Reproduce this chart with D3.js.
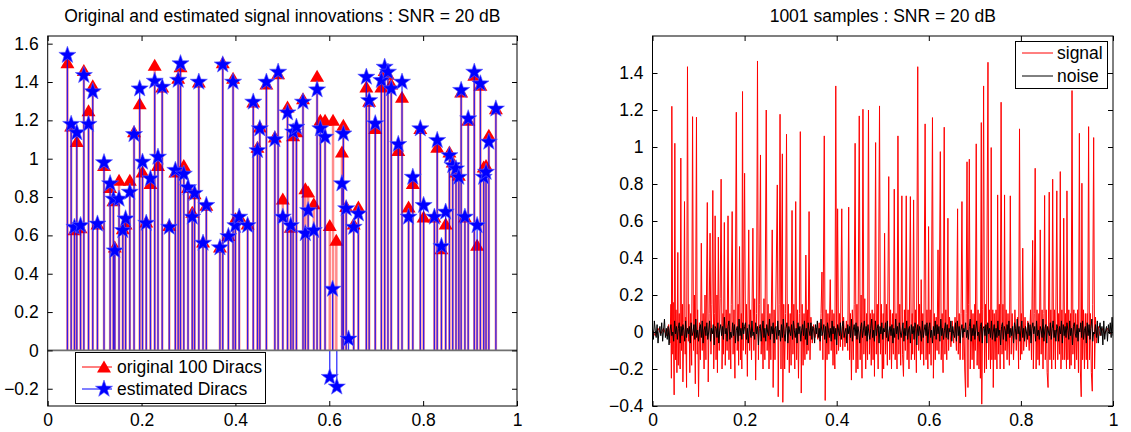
<!DOCTYPE html>
<html>
<head>
<meta charset="utf-8">
<script src="https://cdn.jsdelivr.net/npm/d3@7"></script>
<style>
  body { margin: 0; background: #fff; }
  text { font-family: "Liberation Sans", Arial, sans-serif; }
</style>
</head>
<body>
<div id="chart"></div>
<script>
// Data
// ================================
// original Diracs (positions, amplitudes)
var origT = [0.042,0.050,0.057,0.062,0.070,0.077,0.087,0.096,0.106,0.120,0.133,0.140,0.143,0.152,0.160,0.166,0.175,0.184,0.196,0.202,
  0.210,0.219,0.228,0.235,0.244,0.259,0.272,0.278,0.283,0.290,0.299,0.308,0.313,0.322,0.331,0.338,0.367,0.373,0.385,0.395,
  0.400,0.408,0.426,0.438,0.447,0.452,0.466,0.484,0.491,0.501,0.511,0.518,0.523,0.530,0.544,0.549,0.555,0.567,0.574,0.581,
  0.591,0.601,0.608,0.615,0.627,0.630,0.636,0.652,0.662,0.679,0.685,0.698,0.711,0.718,0.725,0.732,0.747,0.755,0.769,0.778,
  0.794,0.801,0.824,0.830,0.839,0.848,0.856,0.863,0.870,0.876,0.881,0.889,0.896,0.909,0.915,0.922,0.929,0.934,0.940,0.955];
var origA = [1.50,1.17,0.63,1.09,0.64,1.46,1.25,1.38,0.66,0.965,0.85,0.78,0.54,0.887,0.635,0.66,0.887,1.14,1.287,0.93,
  0.67,0.87,1.487,0.965,1.374,0.652,0.93,1.42,1.48,0.965,0.85,0.72,0.817,1.40,0.565,0.757,0.54,1.50,0.60,1.42,
  0.687,0.70,0.66,1.296,1.06,1.165,1.39,1.113,1.443,0.79,1.27,0.643,1.12,1.14,1.313,0.843,0.826,0.765,1.43,1.20,
  1.20,0.652,1.20,0.574,1.035,1.174,0.75,0.66,0.748,1.374,1.30,1.157,1.374,1.46,1.44,1.39,1.043,1.32,0.748,0.87,
  1.157,0.696,0.696,1.06,0.53,0.66,1.035,0.983,0.93,0.913,1.348,0.696,1.20,1.435,0.548,1.383,0.957,0.965,1.122,1.26];

// estimated Diracs
var estT = [0.042,0.050,0.057,0.062,0.070,0.077,0.087,0.096,0.106,0.120,0.133,0.140,0.143,0.152,0.160,0.166,0.175,0.184,0.196,0.202,
  0.210,0.219,0.228,0.235,0.244,0.259,0.272,0.278,0.283,0.290,0.299,0.308,0.313,0.322,0.331,0.338,0.367,0.373,0.385,0.395,
  0.400,0.408,0.426,0.438,0.447,0.452,0.466,0.484,0.491,0.501,0.511,0.518,0.523,0.530,0.544,0.549,0.555,0.567,0.574,0.581,
  0.591,0.601,0.607,0.616,0.641,0.627,0.630,0.636,0.652,0.662,0.679,0.685,0.698,0.711,0.718,0.725,0.732,0.747,0.755,0.769,0.778,
  0.794,0.801,0.824,0.830,0.839,0.848,0.856,0.863,0.870,0.876,0.881,0.889,0.896,0.909,0.915,0.922,0.929,0.934,0.940,0.955];
var estA = [1.54,1.18,0.643,1.136,0.652,1.435,1.18,1.35,0.66,0.98,0.87,0.79,0.52,0.79,0.626,0.687,0.826,1.127,1.365,0.983,
  0.664,0.896,1.405,1.009,1.374,0.643,0.94,1.41,1.496,0.92,0.85,0.696,0.82,1.40,0.56,0.757,0.536,1.49,0.595,1.40,
  0.652,0.696,0.652,1.296,1.043,1.157,1.40,1.10,1.452,0.696,1.24,0.652,1.14,1.165,1.296,0.61,0.73,0.626,1.36,1.157,
  1.113,-0.14,0.32,-0.19,0.06,0.87,1.13,0.74,0.643,0.713,1.426,1.304,1.183,1.409,1.478,1.452,1.365,1.075,1.40,0.696,0.904,
  1.157,0.757,0.696,1.096,0.543,0.722,1.017,0.965,0.948,0.904,1.357,0.696,1.209,1.452,0.652,1.391,0.904,0.93,1.087,1.26];

// noiseless samples (polyline vertices: position, value)
var signalPts = [
[0,0.01],[0.006,-0.02],[0.012,0.02],[0.018,-0.01],[0.024,0.02],[0.03,-0.02],[0.035,0.04],[0.038,-0.06],[0.040,0.15],[0.041,-0.25],
[0.042,1.22],[0.044,-0.12],[0.045,0.16],[0.047,-0.34],[0.0485,1.02],[0.050,-0.15],[0.051,0.12],[0.053,-0.22],[0.055,0.43],[0.056,-0.18],
[0.058,0.1],[0.060,-0.2],[0.0615,0.94],[0.063,-0.1],[0.065,0.15],[0.066,-0.27],[0.068,0.05],[0.0695,0.705],[0.071,-0.12],[0.072,0.08],
[0.074,-0.3],[0.076,1.434],[0.078,-0.05],[0.079,0.15],[0.081,-0.22],[0.083,0.1],[0.085,-0.18],[0.087,1.164],[0.089,-0.1],[0.091,0.2],
[0.093,-0.28],[0.0955,1.161],[0.097,-0.12],[0.098,0.12],[0.100,-0.35],[0.102,0.05],[0.104,-0.15],[0.106,0.48],[0.108,-0.1],[0.110,0.1],
[0.112,-0.2],[0.114,0.2],[0.116,-0.15],[0.119,0.70],[0.121,-0.27],[0.123,0.1],[0.125,0.534],[0.127,-0.12],[0.129,0.15],[0.131,0.765],
[0.133,-0.2],[0.135,0.1],[0.136,0.628],[0.138,-0.15],[0.140,0.2],[0.141,-0.22],[0.143,0.513],[0.145,-0.1],[0.147,0.18],[0.149,0.826],
[0.151,-0.2],[0.153,0.1],[0.154,-0.12],[0.156,0.592],[0.158,-0.18],[0.160,0.12],[0.162,-0.1],[0.164,0.628],[0.166,-0.15],[0.168,0.1],
[0.170,-0.2],[0.171,0.15],[0.173,0.651],[0.175,-0.12],[0.177,0.12],[0.179,-0.25],[0.182,1.188],[0.184,-0.1],[0.186,0.15],[0.187,-0.18],
[0.189,0.462],[0.191,-0.15],[0.193,0.1],[0.194,-0.2],[0.1955,1.30],[0.197,-0.1],[0.200,0.858],[0.202,-0.12],[0.204,0.15],[0.206,-0.24],
[0.209,0.552],[0.211,-0.1],[0.213,0.12],[0.215,-0.15],[0.218,0.561],[0.220,-0.1],[0.222,0.18],[0.224,-0.26],[0.226,0.1],[0.228,1.465],
[0.230,-0.15],[0.232,0.15],[0.2345,0.957],[0.236,-0.12],[0.238,0.1],[0.240,-0.2],[0.242,0.18],[0.244,-0.15],[0.247,1.20],[0.249,-0.1],
[0.251,0.15],[0.253,-0.2],[0.255,0.1],[0.257,-0.15],[0.260,0.552],[0.262,-0.3],[0.264,0.12],[0.266,-0.15],[0.268,0.2],[0.271,0.795],
[0.273,-0.35],[0.275,0.15],[0.277,1.177],[0.279,-0.2],[0.282,0.963],[0.283,-0.38],[0.285,0.15],[0.287,-0.2],[0.289,0.1],[0.291,1.069],
[0.293,-0.15],[0.295,0.15],[0.297,-0.22],[0.299,0.1],[0.301,-0.18],[0.303,0.657],[0.305,-0.12],[0.307,0.15],[0.309,-0.2],[0.311,0.705],
[0.313,-0.15],[0.315,0.12],[0.317,-0.25],[0.319,0.1],[0.321,1.083],[0.323,-0.33],[0.325,0.15],[0.327,-0.18],[0.329,0.1],[0.331,-0.15],
[0.333,0.416],[0.335,-0.12],[0.337,0.12],[0.338,-0.1],[0.340,0.651],[0.342,-0.15],[0.344,0.08],[0.347,-0.06],[0.350,0.04],[0.353,-0.03],
[0.356,0.02],[0.359,-0.04],[0.362,0.05],[0.364,-0.1],[0.366,0.1],[0.368,0.324],[0.370,-0.15],[0.373,1.06],[0.375,-0.37],[0.377,0.12],
[0.379,-0.15],[0.381,0.1],[0.383,-0.12],[0.386,0.283],[0.388,-0.1],[0.390,0.12],[0.392,-0.18],[0.394,0.1],[0.396,-0.2],[0.398,1.33],
[0.400,-0.12],[0.402,0.666],[0.404,-0.1],[0.406,0.1],[0.408,-0.08],[0.411,0.666],[0.413,-0.1],[0.415,0.08],[0.418,-0.08],[0.421,0.06],
[0.424,-0.1],[0.426,0.675],[0.428,-0.15],[0.430,0.1],[0.432,-0.26],[0.434,0.12],[0.436,-0.15],[0.438,0.15],[0.440,1.02],[0.442,-0.22],
[0.444,0.15],[0.446,-0.2],[0.449,1.168],[0.451,-0.15],[0.453,0.2],[0.455,-0.25],[0.457,1.204],[0.459,-0.12],[0.461,0.18],[0.463,-0.2],
[0.465,0.1],[0.467,-0.15],[0.469,1.20],[0.471,-0.12],[0.473,0.1],[0.475,-0.18],[0.477,0.12],[0.479,-0.15],[0.481,0.1],[0.482,-0.24],
[0.4845,1.024],[0.486,-0.12],[0.488,0.15],[0.490,-0.2],[0.493,1.222],[0.495,-0.12],[0.497,0.15],[0.499,-0.25],[0.501,0.1],[0.502,-0.2],
[0.504,0.534],[0.506,-0.12],[0.508,0.15],[0.510,-0.18],[0.513,0.84],[0.515,-0.15],[0.517,0.12],[0.519,-0.2],[0.521,0.1],[0.523,-0.12],
[0.525,0.772],[0.527,-0.15],[0.529,0.1],[0.531,-0.2],[0.533,1.06],[0.535,-0.12],[0.537,0.15],[0.539,-0.18],[0.5415,0.736],[0.543,-0.12],
[0.545,-0.24],[0.547,0.12],[0.549,-0.1],[0.551,0.736],[0.553,-0.15],[0.555,0.12],[0.557,-0.2],[0.560,0.732],[0.562,-0.15],[0.564,0.1],
[0.565,-0.12],[0.567,0.714],[0.569,-0.15],[0.571,0.12],[0.573,-0.22],[0.576,1.434],[0.578,-0.1],[0.580,0.15],[0.582,-0.15],[0.5835,0.283],
[0.585,-0.12],[0.587,0.1],[0.589,-0.18],[0.592,1.125],[0.594,-0.15],[0.596,0.12],[0.598,-0.2],[0.5995,0.57],[0.601,-0.12],[0.603,0.12],
[0.605,-0.18],[0.608,1.159],[0.610,-0.25],[0.612,0.1],[0.614,-0.15],[0.616,0.08],[0.618,-0.1],[0.620,0.444],[0.622,-0.12],[0.625,0.975],
[0.627,-0.15],[0.629,0.1],[0.631,-0.22],[0.6335,1.107],[0.635,-0.12],[0.637,0.12],[0.639,-0.15],[0.6415,0.615],[0.643,-0.1],[0.645,0.08],
[0.648,-0.08],[0.651,0.06],[0.654,-0.06],[0.657,0.08],[0.660,-0.1],[0.6625,0.666],[0.664,-0.12],[0.666,0.1],[0.668,-0.15],[0.670,0.1],
[0.672,0.705],[0.674,-0.15],[0.676,0.12],[0.678,-0.2],[0.680,-0.35],[0.681,0.1],[0.683,0.92],[0.685,-0.3],[0.686,0.15],[0.688,0.934],
[0.690,-0.2],[0.692,0.12],[0.694,-0.15],[0.696,0.1],[0.698,-0.2],[0.700,0.15],[0.701,-0.1],[0.703,1.017],[0.705,-0.18],[0.707,0.12],
[0.709,-0.2],[0.711,0.1],[0.712,-0.25],[0.714,1.132],[0.715,-0.39],[0.717,0.12],[0.719,1.33],[0.721,-0.22],[0.723,0.15],[0.725,-0.2],
[0.7285,1.458],[0.730,-0.15],[0.732,0.12],[0.734,-0.2],[0.7355,0.997],[0.737,-0.15],[0.739,0.12],[0.740,-0.3],[0.742,0.1],[0.744,-0.15],
[0.746,0.12],[0.748,-0.2],[0.7495,0.741],[0.751,-0.12],[0.753,0.15],[0.755,-0.2],[0.757,1.242],[0.759,-0.12],[0.761,0.15],[0.763,-0.2],
[0.7645,0.741],[0.766,-0.1],[0.768,0.12],[0.770,-0.15],[0.772,0.1],[0.775,-0.18],[0.777,0.736],[0.779,-0.12],[0.781,0.1],[0.784,-0.15],
[0.787,0.12],[0.790,-0.1],[0.793,0.08],[0.795,-0.2],[0.797,1.098],[0.799,-0.15],[0.801,0.1],[0.802,-0.12],[0.804,0.453],[0.806,-0.1],
[0.809,0.08],[0.812,-0.08],[0.815,0.06],[0.818,-0.1],[0.821,0.12],[0.823,-0.15],[0.8255,0.495],[0.827,-0.2],[0.829,0.1],[0.831,0.885],
[0.833,-0.2],[0.835,0.12],[0.837,-0.15],[0.839,0.1],[0.840,-0.18],[0.842,0.552],[0.844,-0.12],[0.846,0.12],[0.848,-0.2],[0.850,0.1],
[0.8515,0.738],[0.853,-0.15],[0.855,0.12],[0.857,-0.22],[0.859,-0.3],[0.8615,0.756],[0.863,-0.15],[0.865,0.12],[0.867,-0.2],[0.869,0.826],
[0.871,-0.15],[0.873,0.12],[0.875,-0.2],[0.878,0.763],[0.880,-0.15],[0.882,0.1],[0.884,-0.12],[0.8855,0.867],[0.887,-0.2],[0.889,0.12],
[0.891,-0.15],[0.893,0.615],[0.895,-0.15],[0.897,0.1],[0.899,-0.2],[0.900,0.763],[0.902,-0.15],[0.904,0.12],[0.906,-0.2],[0.908,0.1],
[0.909,-0.18],[0.911,1.305],[0.913,-0.12],[0.915,0.12],[0.917,-0.2],[0.919,0.1],[0.921,-0.15],[0.923,0.12],[0.925,-0.22],[0.927,1.074],
[0.929,-0.2],[0.931,-0.35],[0.9325,0.804],[0.934,-0.15],[0.936,0.12],[0.938,-0.2],[0.940,0.1],[0.942,-0.15],[0.944,0.1],[0.945,-0.2],
[0.947,1.11],[0.949,-0.15],[0.951,0.1],[0.953,-0.22],[0.955,-0.32],[0.956,0.15],[0.958,1.051],[0.960,-0.2],[0.962,0.08],[0.964,-0.06],
[0.968,0.03],[0.972,-0.02],[0.976,0.02],[0.982,-0.01],[0.988,0.02],[0.994,-0.01],[1.0,0.0]
];

// noise, one value every 0.002
var noiseStep = 0.002;
var noise = [
0.02,-0.04,0.06,0.01,-0.03,0.04,-0.06,0.00,0.03,-0.02,
0.05,-0.05,0.01,0.07,-0.03,0.02,-0.04,0.03,-0.07,0.01,
0.04,-0.02,0.00,-0.05,0.06,-0.01,0.03,-0.04,0.02,0.05,
-0.06,0.03,-0.02,0.04,0.01,-0.05,0.06,-0.03,0.02,-0.01,
0.03,-0.06,0.05,-0.02,0.00,0.04,-0.04,0.07,-0.03,0.01,
-0.05,0.02,0.04,-0.03,0.06,-0.06,0.01,0.03,-0.02,0.05,
-0.04,0.00,0.06,-0.05,0.02,-0.01,0.04,-0.07,0.03,0.02,
-0.03,0.05,-0.06,0.01,0.04,-0.02,0.03,-0.04,0.08,-0.01,
0.02,-0.05,0.03,0.06,-0.04,0.00,-0.03,0.05,-0.02,0.04,
-0.06,0.01,0.03,-0.05,0.07,-0.02,0.02,-0.04,0.05,-0.01,
0.03,0.05,-0.04,0.02,-0.06,0.04,0.01,-0.03,0.06,-0.02,
0.00,-0.04,0.05,-0.01,0.03,-0.07,0.02,0.04,-0.05,0.01,
0.06,-0.03,0.02,-0.05,0.04,0.00,-0.02,0.07,-0.04,0.03,
-0.01,0.05,-0.06,0.02,0.03,-0.04,0.06,-0.02,0.01,-0.05,
0.04,-0.03,0.07,-0.01,-0.05,0.02,0.05,-0.06,0.03,0.00,
-0.02,0.04,-0.04,0.06,0.01,-0.03,0.02,-0.06,0.05,-0.01,
0.03,-0.05,0.01,0.04,-0.02,0.06,-0.04,0.02,-0.07,0.05,
0.01,-0.02,0.05,-0.04,0.03,0.02,-0.06,0.04,-0.01,0.06,
-0.03,0.02,-0.05,0.07,-0.02,0.00,0.04,-0.04,0.03,-0.06,
0.05,0.01,-0.03,0.02,-0.05,0.06,-0.01,0.03,-0.04,0.02,
-0.07,0.04,0.01,-0.02,0.05,-0.04,0.03,0.06,-0.03,0.00,
0.02,-0.06,0.04,-0.01,0.03,-0.03,0.07,-0.05,0.01,0.04,
-0.02,0.05,-0.04,0.03,0.00,-0.06,0.02,0.05,-0.03,0.01,
0.06,-0.02,0.03,-0.05,0.04,-0.01,-0.04,0.02,0.07,-0.03,
0.01,-0.05,0.06,-0.02,0.02,0.04,-0.06,0.03,-0.01,0.05,
-0.04,0.02,0.00,0.05,-0.03,0.06,-0.05,0.01,0.03,-0.02,
0.04,-0.06,0.02,-0.03,0.07,-0.01,0.03,-0.04,0.05,0.00,
-0.03,0.01,0.05,-0.05,0.02,-0.02,0.06,-0.04,0.01,0.03,
-0.06,0.04,-0.01,0.03,-0.04,0.05,0.02,-0.07,0.04,-0.02,
0.03,0.00,-0.05,0.06,-0.03,0.01,0.04,-0.02,0.05,-0.06,
0.02,0.05,-0.03,0.01,-0.06,0.03,-0.02,0.06,-0.04,0.04,
-0.01,0.03,-0.05,0.07,-0.02,0.02,-0.04,0.01,0.05,-0.03,
0.04,-0.04,0.02,0.00,0.06,-0.05,0.03,-0.01,-0.03,0.05,
-0.05,0.06,-0.02,0.03,-0.06,0.01,0.04,-0.03,0.02,0.00,
0.05,-0.03,0.01,-0.04,0.03,0.07,-0.05,0.02,-0.02,0.04,
-0.04,0.01,0.06,-0.02,0.00,-0.05,0.03,0.05,-0.06,0.02,
0.03,-0.02,0.04,-0.06,0.05,-0.01,0.02,-0.03,0.06,-0.04,
0.00,0.04,-0.05,0.02,-0.03,0.06,-0.02,0.01,-0.07,0.03,
0.05,-0.04,0.03,0.01,-0.05,0.04,-0.01,0.06,-0.03,0.02,
-0.02,0.03,-0.06,0.05,0.02,-0.04,0.07,-0.01,0.03,-0.05,
0.01,0.06,-0.03,0.02,-0.05,0.03,0.00,-0.04,0.05,-0.02,
0.04,-0.06,0.02,0.05,-0.01,0.03,-0.05,0.06,-0.02,0.01,
-0.04,0.03,0.01,-0.03,0.07,-0.05,0.02,0.04,-0.06,0.03,
0.00,-0.02,0.05,-0.04,0.02,0.06,-0.03,0.01,-0.05,0.04,
0.02,-0.05,0.03,-0.01,0.06,-0.06,0.04,-0.02,0.03,-0.03,
0.05,0.01,-0.04,0.06,-0.02,0.02,-0.07,0.03,0.05,-0.01,
-0.03,0.04,-0.05,0.02,0.00,0.05,-0.03,0.06,-0.04,0.01,
0.03,-0.06,0.05,-0.02,0.04,-0.04,0.02,0.07,-0.05,0.00,
-0.01,0.04,-0.03,0.06,-0.06,0.02,0.05,-0.02,0.03,-0.07,
0.06,-0.04,0.01,0.03,-0.05,0.04,-0.01,0.05,-0.03,0.08,
-0.02];

// tick labels
var xTicks = [0, 0.2, 0.4, 0.6, 0.8, 1];
var yTicksLeft = [-0.2, 0, 0.2, 0.4, 0.6, 0.8, 1, 1.2, 1.4, 1.6];
var yTicksRight = [-0.4, -0.2, 0, 0.2, 0.4, 0.6, 0.8, 1, 1.2, 1.4];

// Set up the figure
// ================================
var svgWidth = 1131;
var svgHeight = 432;
var fontSize = "17.5px";

var svg = d3.select("#chart")
  .append("svg")
  .attr("width", svgWidth)
  .attr("height", svgHeight);

var boxL = {x0: 47.7, x1: 517, y0: 36, y1: 406};
var boxR = {x0: 652.5, x1: 1113, y0: 36, y1: 406};

var xL = d3.scaleLinear().domain([0, 1]).range([boxL.x0, boxL.x1]);
var yL = d3.scaleLinear().domain([-0.29, 1.64]).range([boxL.y1, boxL.y0]);
var xR = d3.scaleLinear().domain([0, 1]).range([boxR.x0, boxR.x1]);
var yR = d3.scaleLinear().domain([-0.4, 1.6]).range([boxR.y1, boxR.y0]);

var fmt = function(d) { return d === 0 ? "0" : d3.format("")(d); };

function drawAxes(x, y, box, yTicks) {
  var g = svg.append("g");
  g.append("g").attr("transform", `translate(0, ${box.y1})`)
    .call(d3.axisBottom(x).tickValues(xTicks).tickSize(-5).tickPadding(8).tickFormat(fmt));
  g.append("g").attr("transform", `translate(0, ${box.y0})`)
    .call(d3.axisTop(x).tickValues(xTicks).tickSize(-5).tickFormat(""));
  g.append("g").attr("transform", `translate(${box.x0}, 0)`)
    .call(d3.axisLeft(y).tickValues(yTicks).tickSize(-5).tickPadding(9).tickFormat(fmt));
  g.append("g").attr("transform", `translate(${box.x1}, 0)`)
    .call(d3.axisRight(y).tickValues(yTicks).tickSize(-5).tickFormat(""));
  g.selectAll(".domain").remove();
  g.selectAll(".tick line").attr("stroke", "#000");
  g.selectAll("text")
    .attr("font-family", "Liberation Sans, Arial, sans-serif")
    .attr("font-size", fontSize)
    .attr("fill", "#000");
  g.append("rect")
    .attr("x", box.x0).attr("y", box.y0)
    .attr("width", box.x1 - box.x0).attr("height", box.y1 - box.y0)
    .attr("fill", "none").attr("stroke", "#000").attr("stroke-width", 1);
}

// marker shapes
function triPath(cx, cy) {
  return `M${cx},${cy - 6.5}L${cx + 7},${cy + 5.5}L${cx - 7},${cy + 5.5}Z`;
}
function starPath(cx, cy) {
  var R = 9, r = R * 0.40, p = [];
  for (var i = 0; i < 10; i++) {
    var a = -Math.PI / 2 + i * Math.PI / 5;
    var rr = i % 2 === 0 ? R : r;
    p.push([cx + rr * Math.cos(a), cy + rr * Math.sin(a)]);
  }
  return "M" + p.map(q => q.join(",")).join("L") + "Z";
}

// Left panel: stems
// ================================
var left = svg.append("g");
var orig = origT.map((t, i) => ({t: t, a: origA[i]}));
var est = estT.map((t, i) => ({t: t, a: estA[i]}));

left.selectAll("line.orig").data(orig).enter().append("line")
  .attr("x1", d => xL(d.t)).attr("x2", d => xL(d.t))
  .attr("y1", yL(0)).attr("y2", d => yL(d.a))
  .attr("stroke", "#ff0000").attr("stroke-opacity", 0.45).attr("stroke-width", 2.5);
left.selectAll("path.orig").data(orig).enter().append("path")
  .attr("d", d => triPath(xL(d.t), yL(d.a)))
  .attr("fill", "#ff0000");

left.selectAll("line.est").data(est).enter().append("line")
  .attr("x1", d => xL(d.t)).attr("x2", d => xL(d.t))
  .attr("y1", yL(0)).attr("y2", d => yL(d.a))
  .attr("stroke", "#0000ff").attr("stroke-opacity", 0.8).attr("stroke-width", 1.3);
left.selectAll("path.est").data(est).enter().append("path")
  .attr("d", d => starPath(xL(d.t), yL(d.a)))
  .attr("fill", "#0000ff").attr("stroke", "#5a5aff").attr("stroke-width", 0.6);

// stem baseline
left.append("line")
  .attr("x1", boxL.x0).attr("x2", boxL.x1)
  .attr("y1", yL(0)).attr("y2", yL(0))
  .attr("stroke", "#707070").attr("stroke-width", 1.6);

drawAxes(xL, yL, boxL, yTicksLeft);

// Left legend
var legL = svg.append("g");
legL.append("rect").attr("x", 75.5).attr("y", 352.5).attr("width", 190).attr("height", 51)
  .attr("fill", "#fff").attr("stroke", "#000");
legL.append("line").attr("x1", 82).attr("x2", 112).attr("y1", 367).attr("y2", 367)
  .attr("stroke", "#ff0000");
legL.append("path").attr("d", triPath(104, 367)).attr("fill", "#ff0000");
legL.append("line").attr("x1", 82).attr("x2", 112).attr("y1", 389).attr("y2", 389)
  .attr("stroke", "#0000ff");
legL.append("path").attr("d", starPath(104, 389)).attr("fill", "#0000ff")
  .attr("stroke", "#5a5aff").attr("stroke-width", 0.6);
legL.append("text").attr("x", 117).attr("y", 373).attr("font-size", fontSize)
  .text("original 100 Diracs");
legL.append("text").attr("x", 117).attr("y", 395).attr("font-size", fontSize)
  .text("estimated Diracs");

// Right panel: samples
// ================================
svg.append("defs").append("clipPath").attr("id", "clipR")
  .append("rect").attr("x", boxR.x0).attr("y", boxR.y0)
  .attr("width", boxR.x1 - boxR.x0).attr("height", boxR.y1 - boxR.y0);

var right = svg.append("g").attr("clip-path", "url(#clipR)");
var sigLine = d3.line().x(d => xR(d[0])).y(d => yR(d[1]));
right.append("path").datum(signalPts)
  .attr("d", sigLine)
  .attr("fill", "none").attr("stroke", "#ff0000").attr("stroke-width", 1);

var noiseLine = d3.line().x((d, i) => xR(i * noiseStep)).y(d => yR(d));
right.append("path").datum(noise)
  .attr("d", noiseLine)
  .attr("fill", "none").attr("stroke", "#000").attr("stroke-width", 1);

drawAxes(xR, yR, boxR, yTicksRight);

// Right legend
var legR = svg.append("g");
legR.append("rect").attr("x", 1015.5).attr("y", 41.5).attr("width", 92).attr("height", 47)
  .attr("fill", "#fff").attr("stroke", "#000");
legR.append("line").attr("x1", 1022).attr("x2", 1053).attr("y1", 53).attr("y2", 53)
  .attr("stroke", "#ff0000");
legR.append("line").attr("x1", 1022).attr("x2", 1053).attr("y1", 76).attr("y2", 76)
  .attr("stroke", "#000");
legR.append("text").attr("x", 1057).attr("y", 59).attr("font-size", fontSize).text("signal");
legR.append("text").attr("x", 1057).attr("y", 82).attr("font-size", fontSize).text("noise");

// Titles
svg.append("text")
  .attr("x", (boxL.x0 + boxL.x1) / 2).attr("y", 22)
  .attr("text-anchor", "middle").attr("font-size", fontSize)
  .text("Original and estimated signal innovations : SNR = 20 dB");
svg.append("text")
  .attr("x", (boxR.x0 + boxR.x1) / 2).attr("y", 22)
  .attr("text-anchor", "middle").attr("font-size", fontSize)
  .text("1001 samples : SNR = 20 dB");
</script>
</body>
</html>
